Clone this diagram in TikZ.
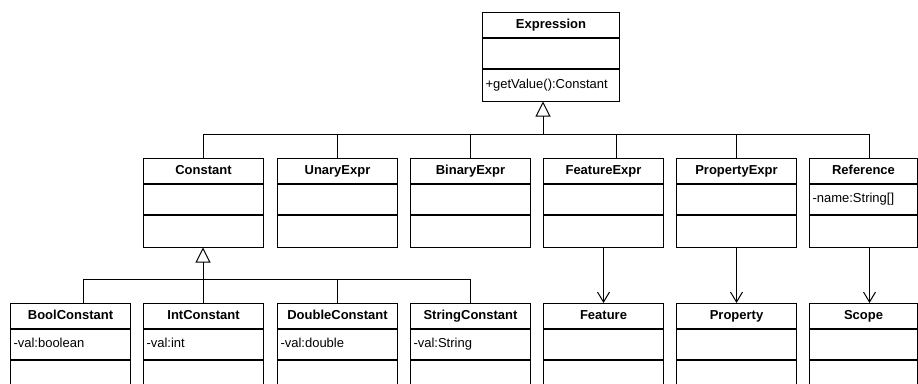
\documentclass[tikz,border=0pt]{standalone}
\usepackage{fontspec}
\setmainfont{Liberation Sans}
\usetikzlibrary{arrows.meta,positioning}

\tikzset{
	ctitle/.style={draw,anchor=north west,minimum height=24.5pt,inner sep=0pt,
		text height=9.5pt,text depth=2.5pt,
		font=\fontsize{13}{15}\selectfont\bfseries},
	cbody/.style={draw,anchor=north,inner xsep=3pt,inner ysep=0pt,align=left,
		text height=9.5pt,text depth=2.5pt,
		font=\fontsize{13}{15}\selectfont},
	inherit/.style={-{Triangle[open,length=15pt,width=15pt]}},
	assoc/.style={-{Straight Barb[length=10pt,width=12pt]}}
}

% width, name, x, y, title, attribute, method
\newcommand{\umlclass}[7][120]{%
	\pgfmathsetmacro{\cbw}{#1-6}
	\node[ctitle,minimum width=#1pt] (#2) at (#3,#4) {#5};
	\node[cbody,text width=\cbw pt,minimum height=30pt] (#2-a) at (#2.south) {#6};
	\node[cbody,text width=\cbw pt,minimum height=32pt] (#2-m) at (#2-a.south) {#7};
}

\begin{document}
\begin{tikzpicture}[x=1pt,y=-1pt,line width=1pt]
	\useasboundingbox (0,0) rectangle (918,383);
	\clip (0,0) rectangle (918,383);

	\umlclass[137]{expr}{482}{12}{Expression}{}{+getValue():Constant}

	\umlclass{const}{143}{158}{Constant}{}{}
	\umlclass{unary}{277}{158}{UnaryExpr}{}{}
	\umlclass{binary}{410}{158}{BinaryExpr}{}{}
	\umlclass{featexpr}{543}{158}{FeatureExpr}{}{}
	\umlclass{propexpr}{676}{158}{PropertyExpr}{}{}
	\umlclass[108]{ref}{809}{158}{Reference}{-name:String[]}{}

	\umlclass{bool}{10}{303}{BoolConstant}{-val:boolean}{}
	\umlclass{int}{143}{303}{IntConstant}{-val:int}{}
	\umlclass{double}{277}{303}{DoubleConstant}{-val:double}{}
	\umlclass{string}{410}{303}{StringConstant}{-val:String}{}
	\umlclass{feat}{543}{303}{Feature}{}{}
	\umlclass{prop}{676}{303}{Property}{}{}
	\umlclass[108]{scope}{809}{303}{Scope}{}{}

	% generalisation of Expression
	\coordinate (gen1) at (543,134);
	\draw[inherit] (gen1) -- (gen1 |- expr-m.south);
	\foreach \c in {const,unary,binary,propexpr}
		\draw (gen1) -| (\c.north);
	\draw (gen1) -| ([xshift=13pt]featexpr.north);
	\draw (gen1) -| ([xshift=6pt]ref.north);

	% generalisation of Constant
	\coordinate (gen2) at (203,279);
	\draw[inherit] (gen2) -- (gen2 |- const-m.south);
	\foreach \c in {int,double,string}
		\draw (gen2) -| (\c.north);
	\draw (gen2) -| ([xshift=13pt]bool.north);

	% associations
	\draw[assoc] (featexpr-m.south) -- (feat.north);
	\draw[assoc] (propexpr-m.south) -- (prop.north);
	\draw[assoc] ([xshift=6pt]ref-m.south) -- ([xshift=6pt]scope.north);
\end{tikzpicture}
\end{document}
